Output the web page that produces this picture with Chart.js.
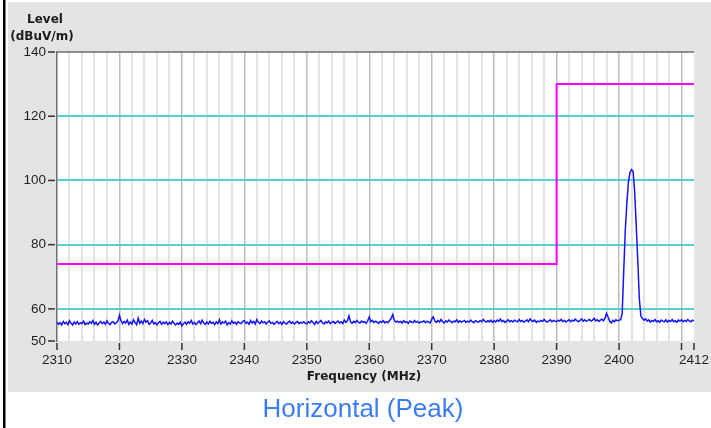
<!DOCTYPE html>
<html><head><meta charset="utf-8">
<script src="https://cdn.jsdelivr.net/npm/chart.js@4.4.1/dist/chart.umd.min.js"></script>
<style>html,body{margin:0;padding:0;background:#fff;}canvas{display:block;}</style>
</head><body>
<canvas id="c" width="711" height="428"></canvas>
<script>
// ---- data ----
const xMin = 2310, xMax = 2412;
const xLabelValues = [2310, 2320, 2330, 2340, 2350, 2360, 2370, 2380, 2390, 2400, 2412];
const xTickMarks = [2310, 2320, 2330, 2340, 2350, 2360, 2370, 2380, 2390, 2400, 2410, 2412];
const yMin = 50, yMax = 140;
const yTickValues = [50, 60, 80, 100, 120, 140];
const yGridValues = [60, 80, 100, 120];

const limitFreq = [2310, 2390, 2390, 2412];
const limitLevel = [74, 74, 130, 130];

// trace sampled every 0.25 MHz from 2310 to 2400
const noiseLowStart = 2310, noiseLowStep = 0.25;
const noiseLow = [
  55.9, 55.2, 55.7, 55.0, 56.1, 55.4, 55.8, 55.1, 56.3, 55.5, 55.0, 55.9, 55.3, 56.0, 55.2, 55.7, 55.4, 56.2, 55.1, 55.6,
  55.3, 56.0, 55.5, 56.4, 55.2, 55.8, 55.0, 55.6, 56.1, 55.4, 55.9, 55.2, 56.3, 55.5, 55.1, 55.8, 56.0, 55.3, 55.7, 56.2,
  58.0, 56.3, 55.4, 56.1, 55.6, 56.5, 55.2, 55.9, 55.3, 56.6, 55.8, 55.1, 57.1, 55.5, 56.2, 55.4, 56.7, 55.9, 56.3, 55.2,
  55.6, 56.4, 55.3, 55.8, 55.0, 55.7, 56.1, 55.2, 55.9, 55.4, 56.0, 55.1, 55.8, 55.3, 56.2, 55.5, 55.0, 55.6, 55.2, 55.9,
  54.7, 55.4, 55.9, 55.2, 56.0, 55.5, 56.4, 55.3, 55.8, 55.1, 55.7, 56.2, 55.4, 56.5, 55.6, 55.2, 55.9, 55.3, 56.1, 55.5,
  55.8, 55.1, 56.0, 55.4, 56.6, 55.3, 55.9, 55.6, 56.2, 55.0, 55.7, 55.3, 56.3, 55.5, 55.9, 55.2, 56.0, 55.6, 55.4, 56.1,
  56.3, 55.5, 55.9, 55.2, 56.4, 55.6, 56.1, 55.3, 56.7, 55.8, 55.4, 56.2, 55.7, 56.0, 55.3, 55.9, 56.3, 55.5, 55.8, 55.2,
  55.7, 56.1, 55.4, 55.9, 55.2, 56.0, 55.6, 55.3, 55.8, 56.2, 55.5, 55.9, 55.3, 55.7, 56.1, 55.4, 55.8, 55.6, 56.0, 55.5,
  55.4, 56.0, 55.6, 56.3, 55.8, 55.2, 56.1, 55.5, 55.9, 56.4, 55.7, 55.3, 56.0, 55.6, 56.2, 55.4, 55.8, 56.1, 55.5, 55.9,
  56.2, 55.6, 56.0, 55.4, 56.5, 55.8, 56.3, 57.8, 56.0, 55.5, 56.1, 55.7, 56.4, 55.9, 55.6, 56.2, 55.8, 56.0, 55.5, 56.3,
  57.5, 56.0, 56.4, 55.7, 56.2, 55.9, 55.5, 56.1, 55.8, 56.3, 55.6, 56.0, 55.7, 56.4, 57.0, 58.2, 56.5, 55.9, 56.2, 55.8,
  56.1, 55.6, 56.3, 55.8, 56.0, 55.5, 56.2, 55.9, 55.7, 56.4, 55.8, 56.1, 55.6, 56.0, 55.9, 56.3, 55.7, 56.2, 55.9, 55.6,
  56.8, 57.5, 56.2, 55.8, 56.4, 55.9, 56.7, 56.0, 55.6, 56.3, 55.9, 56.5, 56.1, 55.7, 56.2, 56.0, 56.6, 55.8, 56.3, 55.9,
  56.1, 56.4, 55.8, 56.2, 55.9, 56.5, 56.0, 55.7, 56.3, 56.1, 55.8, 56.4, 56.0, 56.7, 56.2, 55.9, 56.3, 56.0, 56.5, 55.8,
  56.3, 55.9, 56.5, 56.1, 56.8, 56.0, 56.4, 55.8, 56.2, 56.6, 56.0, 56.3, 55.9, 56.5, 56.2, 56.0, 56.7, 56.1, 56.4, 55.9,
  56.2, 56.6, 56.0, 56.9, 56.3, 56.1, 56.5, 55.8, 56.2, 56.0, 56.4, 56.1, 56.7, 56.2, 55.9, 56.3, 56.6, 56.0, 56.4, 56.2,
  56.0, 56.5, 56.2, 56.7, 56.1, 56.4, 55.9, 56.3, 56.6, 56.0, 56.5, 56.2, 56.8, 56.3, 56.0, 56.4, 56.9, 56.2, 56.6, 56.1,
  56.4, 56.7, 56.2, 56.5, 57.0, 56.3, 56.6, 56.1, 56.5, 56.8, 56.3, 57.1, 58.6, 57.4, 56.2, 55.6, 56.4, 56.0, 56.6, 56.3,
  56.5
];
const peakFreq = [2400.25, 2400.5, 2400.75, 2401.0, 2401.25, 2401.5, 2401.75, 2402.0, 2402.25, 2402.5, 2402.75, 2403.0, 2403.25, 2403.5];
const peakLevel = [56.6, 58.5, 72.0, 84.5, 93.0, 99.5, 102.5, 103.4, 102.8, 96.5, 86.0, 75.0, 63.0, 57.8];
const noiseHighStart = 2403.75, noiseHighStep = 0.25;
const noiseHigh = [
  57.0, 56.5, 56.9, 56.2, 56.6, 55.9, 56.4, 56.1, 56.7, 56.0, 56.3, 55.8, 56.5, 56.2, 56.0, 56.6, 55.9,
  56.4, 56.1, 56.7, 56.0, 56.3, 55.8, 56.5, 56.2, 56.6, 56.0, 56.4, 56.1, 56.7, 56.3, 56.0, 56.5, 56.2
];

// ---- build points ----
const tracePts = [];
noiseLow.forEach((v, i) => tracePts.push({x: noiseLowStart + i * noiseLowStep, y: v}));
peakFreq.forEach((f, i) => tracePts.push({x: f, y: peakLevel[i]}));
noiseHigh.forEach((v, i) => tracePts.push({x: noiseHighStart + i * noiseHighStep, y: v}));
const limitPts = limitFreq.map((f, i) => ({x: f, y: limitLevel[i]}));

const tickFont = {family: '"Liberation Sans", Arial, sans-serif', size: 13.5};

const decor = {
  id: 'decor',
  beforeDraw(chart) {
    const c = chart.ctx, a = chart.chartArea;
    c.save();
    c.fillStyle = '#ffffff'; c.fillRect(0, 0, 711, 428);
    c.fillStyle = '#000000'; c.fillRect(3, 0, 2.5, 428);
    c.fillStyle = '#e4e4e4'; c.fillRect(8, 2, 703, 390);
    c.fillStyle = '#ffffff'; c.fillRect(a.left, a.top, a.right - a.left, a.bottom - a.top);
    c.restore();
  },
  afterDraw(chart) {
    const c = chart.ctx, a = chart.chartArea;
    const xs = chart.scales.x, ys = chart.scales.y;
    c.save();
    c.strokeStyle = '#6e6e6e'; c.lineWidth = 1.5;
    c.beginPath(); c.moveTo(a.left - 0.75, a.top); c.lineTo(a.right, a.top); c.stroke();
    c.strokeStyle = '#333333'; c.lineWidth = 1.5;
    yTickValues.forEach(v => {
      const py = ys.getPixelForValue(v);
      c.beginPath(); c.moveTo(a.left - 9, py); c.lineTo(a.left - 2, py); c.stroke();
    });
    xTickMarks.forEach(v => {
      const px = xs.getPixelForValue(v);
      c.beginPath(); c.moveTo(px, a.bottom + 2); c.lineTo(px, a.bottom + 9); c.stroke();
    });
    c.fillStyle = '#1a1a1a';
    c.font = 'bold 12px "DejaVu Sans", sans-serif';
    c.textAlign = 'center'; c.textBaseline = 'middle';
    c.fillText('Level', 45, 19.5);
    c.fillText('(dBuV/m)', 42, 37);
    c.fillText('Frequency (MHz)', 364, 377);
    c.fillStyle = '#3b7cf6';
    c.font = '26px "Liberation Sans", Arial, sans-serif';
    c.textBaseline = 'alphabetic';
    c.fillText('Horizontal (Peak)', 363, 417);
    c.restore();
  }
};

new Chart(document.getElementById('c'), {
  type: 'line',
  data: {
    datasets: [
      {data: limitPts, borderColor: '#ff00ff', borderWidth: 2, pointRadius: 0, tension: 0},
      {data: tracePts, borderColor: '#1414ff', borderWidth: 1.5, pointRadius: 0, tension: 0}
    ]
  },
  options: {
    responsive: false,
    animation: false,
    events: [],
    layout: {padding: {left: 0, top: 52, right: 17, bottom: 0}},
    plugins: {legend: {display: false}, tooltip: {enabled: false}, title: {display: false}},
    scales: {
      x: {
        type: 'linear', min: xMin, max: xMax,
        afterFit: s => { s.height = 87; s.paddingLeft = 0; s.paddingRight = 0; },
        ticks: {
          stepSize: 2, autoSkip: false, maxRotation: 0, minRotation: 0,
          padding: 11, font: tickFont, color: '#1e1e1e',
          callback: v => xLabelValues.includes(Math.round(v)) ? String(Math.round(v)) : ''
        },
        grid: {
          drawTicks: false,
          color: ctx => {
            const v = Math.round(ctx.tick.value);
            if (v === xMin || v === xMax) return 'rgba(0,0,0,0)';
            return v % 10 === 0 ? '#bdbdbd' : '#e3e3e3';
          },
          lineWidth: ctx => (Math.round(ctx.tick.value) % 10 === 0 ? 1.5 : 2)
        },
        border: {display: false}
      },
      y: {
        type: 'linear', min: yMin, max: yMax,
        afterFit: s => { s.width = 57; s.paddingTop = 0; s.paddingBottom = 0; },
        afterBuildTicks: s => { s.ticks = yTickValues.map(v => ({value: v})); },
        ticks: {padding: 11, font: tickFont, color: '#1e1e1e', callback: v => String(v)},
        grid: {
          drawTicks: false,
          color: ctx => yGridValues.includes(ctx.tick.value) ? '#55d0d0' : 'rgba(0,0,0,0)',
          lineWidth: 2
        },
        border: {display: true, color: '#6e6e6e', width: 1.5}
      }
    }
  },
  plugins: [decor]
});
</script>
</body></html>
